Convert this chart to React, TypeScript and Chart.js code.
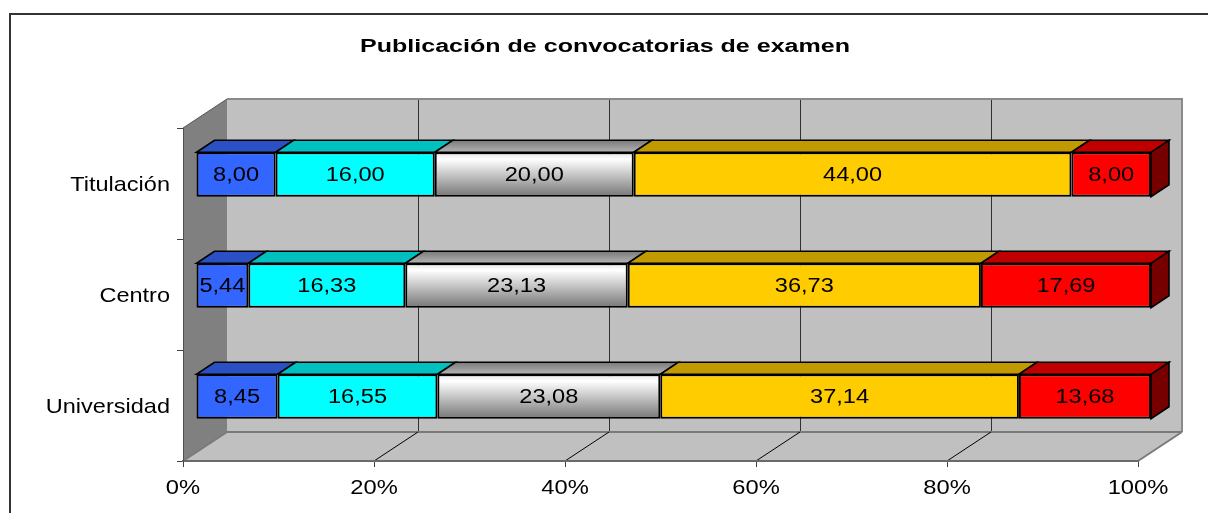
import React, { useEffect, useRef } from 'react';
import { Chart, registerables } from 'chart.js';

Chart.register(...registerables);

// ---------- data ----------
const TITLE = 'Publicación de convocatorias de examen';
const categories = ['Titulación', 'Centro', 'Universidad'];
const serie1 = [8.0, 5.44, 8.45];
const serie2 = [16.0, 16.33, 16.55];
const serie3 = [20.0, 23.13, 23.08];
const serie4 = [44.0, 36.73, 37.14];
const serie5 = [8.0, 17.69, 13.68];
const seriesNames = ['Serie1', 'Serie2', 'Serie3', 'Serie4', 'Serie5'];
const xTickValues = [0, 20, 40, 60, 80, 100];

// ---------- styles ----------
const FONT = "'Liberation Sans', Arial, Helvetica, sans-serif";
const frontColors = ['#3366ff', '#00ffff', 'GRADIENT', '#ffcc00', '#ff0000'];
const topColors = ['#2a50c4', '#00c0c0', 'GRADIENT', '#c09a00', '#c00000'];
const sideColor = '#760000';

const DEPTH_X = 44;
const DEPTH_Y = -29;
const BAR_X = 13;
const BAR_Y = -9;
const BAR_DX = 18;
const BAR_DY = -12;

const allSeries = [serie1, serie2, serie3, serie4, serie5];
const totals = categories.map((_, i) => allSeries.reduce((s, arr) => s + arr[i], 0));
const toPct = (arr: number[]) => arr.map((v, i) => (v / totals[i]) * 100);
const fmt = (v: number) => v.toFixed(2).replace('.', ',');

function grayFront(ctx: CanvasRenderingContext2D, top: number, bottom: number) {
  const g = ctx.createLinearGradient(0, top, 0, bottom);
  g.addColorStop(0, '#e4e4e4');
  g.addColorStop(0.15, '#ffffff');
  g.addColorStop(1, '#767676');
  return g;
}

function stretchedText(
  ctx: CanvasRenderingContext2D,
  text: string,
  x: number,
  y: number,
  align: CanvasTextAlign,
  sx: number
) {
  ctx.save();
  ctx.translate(x, y);
  ctx.scale(sx, 1);
  ctx.textAlign = align;
  ctx.textBaseline = 'alphabetic';
  ctx.fillText(text, 0, 0);
  ctx.restore();
}

const threeD = {
  id: 'threeD',
  beforeDraw(chart: any) {
    const { ctx, chartArea: a, scales } = chart;
    const xs = scales.x;
    ctx.save();
    // outer frame
    ctx.fillStyle = '#333333';
    ctx.fillRect(9, 13, chart.width - 9, 2);
    ctx.fillRect(9, 13, 2, chart.height - 13);

    // title
    ctx.font = `bold 18px ${FONT}`;
    ctx.fillStyle = '#000';
    const w = ctx.measureText(TITLE).width;
    const target = 490;
    stretchedText(ctx, TITLE, 605 - target / 2, 52, 'left', target / w);

    // back wall
    ctx.fillStyle = '#c0c0c0';
    ctx.fillRect(a.left + DEPTH_X, a.top + DEPTH_Y, a.right - a.left, a.bottom - a.top);
    ctx.strokeStyle = '#303030';
    ctx.lineWidth = 1;
    xTickValues.slice(1, -1).forEach((t) => {
      const x = Math.round(xs.getPixelForValue(t) + DEPTH_X) + 0.5;
      ctx.beginPath();
      ctx.moveTo(x, a.top + DEPTH_Y);
      ctx.lineTo(x, a.bottom + DEPTH_Y);
      ctx.stroke();
    });
    ctx.strokeStyle = '#8a8a8a';
    ctx.lineWidth = 2;
    ctx.beginPath();
    ctx.moveTo(a.left + DEPTH_X, a.top + DEPTH_Y);
    ctx.lineTo(a.right + DEPTH_X, a.top + DEPTH_Y);
    ctx.lineTo(a.right + DEPTH_X, a.bottom + DEPTH_Y);
    ctx.stroke();

    // side wall
    ctx.fillStyle = '#808080';
    ctx.beginPath();
    ctx.moveTo(a.left, a.top);
    ctx.lineTo(a.left + DEPTH_X, a.top + DEPTH_Y);
    ctx.lineTo(a.left + DEPTH_X, a.bottom + DEPTH_Y);
    ctx.lineTo(a.left, a.bottom);
    ctx.closePath();
    ctx.fill();
    ctx.strokeStyle = '#555555';
    ctx.lineWidth = 1;
    ctx.beginPath();
    ctx.moveTo(a.left, a.top);
    ctx.lineTo(a.left + DEPTH_X, a.top + DEPTH_Y);
    ctx.stroke();

    // floor
    ctx.fillStyle = '#c0c0c0';
    ctx.beginPath();
    ctx.moveTo(a.left, a.bottom);
    ctx.lineTo(a.right, a.bottom);
    ctx.lineTo(a.right + DEPTH_X, a.bottom + DEPTH_Y);
    ctx.lineTo(a.left + DEPTH_X, a.bottom + DEPTH_Y);
    ctx.closePath();
    ctx.fill();
    ctx.strokeStyle = '#7a7a7a';
    ctx.lineWidth = 2;
    ctx.beginPath();
    ctx.moveTo(a.left + DEPTH_X, a.bottom + DEPTH_Y);
    ctx.lineTo(a.right + DEPTH_X, a.bottom + DEPTH_Y);
    ctx.stroke();
    ctx.beginPath();
    ctx.moveTo(a.right, a.bottom);
    ctx.lineTo(a.right + DEPTH_X, a.bottom + DEPTH_Y);
    ctx.stroke();
    ctx.beginPath();
    ctx.moveTo(a.left, a.bottom);
    ctx.lineTo(a.left + DEPTH_X, a.bottom + DEPTH_Y);
    ctx.stroke();
    ctx.strokeStyle = '#000000';
    ctx.lineWidth = 1;
    xTickValues.slice(1, -1).forEach((t) => {
      const x = xs.getPixelForValue(t);
      ctx.beginPath();
      ctx.moveTo(x, a.bottom);
      ctx.lineTo(x + DEPTH_X, a.bottom + DEPTH_Y);
      ctx.stroke();
    });
    ctx.restore();
  },
  beforeDatasetsDraw(chart: any) {
    chart.ctx.save();
    chart.ctx.translate(BAR_X, BAR_Y);
  },
  afterDatasetsDraw(chart: any) {
    const ctx = chart.ctx as CanvasRenderingContext2D;
    ctx.restore();
    ctx.save();
    ctx.lineJoin = 'miter';
    const n = chart.data.datasets.length;
    const boxes: any[] = [];
    chart.data.datasets.forEach((ds: any, di: number) => {
      const meta = chart.getDatasetMeta(di);
      meta.data.forEach((el: any, i: number) => {
        const p = el.getProps(['x', 'y', 'base', 'height'], true);
        const left = Math.min(p.base, p.x) + BAR_X;
        const right = Math.max(p.base, p.x) + BAR_X;
        const top = p.y - p.height / 2 + BAR_Y;
        const bottom = p.y + p.height / 2 + BAR_Y;
        boxes.push({ di, i, left, right, top, bottom, raw: ds.rawValues[i] });
        // top face
        ctx.beginPath();
        ctx.moveTo(left, top);
        ctx.lineTo(right, top);
        ctx.lineTo(right + BAR_DX, top + BAR_DY);
        ctx.lineTo(left + BAR_DX, top + BAR_DY);
        ctx.closePath();
        if (topColors[di] === 'GRADIENT') {
          const g = ctx.createLinearGradient(0, top + BAR_DY, 0, top);
          g.addColorStop(0, '#7a7a7a');
          g.addColorStop(1, '#b4b4b4');
          ctx.fillStyle = g;
        } else {
          ctx.fillStyle = topColors[di];
        }
        ctx.fill();
        ctx.strokeStyle = '#000';
        ctx.lineWidth = 1.6;
        ctx.stroke();
        // side face on last segment
        if (di === n - 1) {
          ctx.beginPath();
          ctx.moveTo(right, top);
          ctx.lineTo(right + BAR_DX, top + BAR_DY);
          ctx.lineTo(right + BAR_DX, bottom + BAR_DY);
          ctx.lineTo(right, bottom);
          ctx.closePath();
          ctx.fillStyle = sideColor;
          ctx.fill();
          ctx.stroke();
        }
      });
    });
    // data labels
    ctx.font = `20px ${FONT}`;
    ctx.fillStyle = '#000';
    boxes.forEach((b) => {
      stretchedText(ctx, fmt(b.raw), (b.left + b.right) / 2, (b.top + b.bottom) / 2 + 6.5, 'center', 1.18);
    });

    // axis labels (from the chart's scales)
    const xs = chart.scales.x;
    const ys = chart.scales.y;
    const a = chart.chartArea;
    ctx.font = `21px ${FONT}`;
    xs.ticks.forEach((t: any) => {
      stretchedText(ctx, `${t.value}%`, xs.getPixelForValue(t.value), a.bottom + 33, 'center', 1.13);
    });
    ys.ticks.forEach((t: any, i: number) => {
      const label = chart.data.labels[t.value] ?? ys.getLabelForValue(t.value);
      stretchedText(ctx, String(label), a.left - 13, ys.getPixelForTick(i) + 7.5, 'right', 1.12);
    });
    ctx.restore();
  },
};

export default function App() {
  const ref = useRef<HTMLCanvasElement | null>(null);
  useEffect(() => {
    if (!ref.current) return;
    const datasets = allSeries.map((arr, di) => ({
      label: seriesNames[di],
      data: toPct(arr),
      rawValues: arr,
      backgroundColor:
        frontColors[di] === 'GRADIENT'
          ? (c: any) => {
              const ys = c.chart.scales && c.chart.scales.y;
              if (!ys || typeof c.dataIndex !== 'number') return '#d0d0d0';
              const yc = ys.getPixelForValue(c.dataIndex);
              if (!Number.isFinite(yc)) return '#d0d0d0';
              return grayFront(c.chart.ctx, yc - 22, yc + 22);
            }
          : frontColors[di],
      borderColor: '#000000',
      borderWidth: 2,
      borderSkipped: false,
      barPercentage: 0.4,
      categoryPercentage: 1,
    }));
    const chart = new Chart(ref.current, {
      type: 'bar',
      data: { labels: categories, datasets: datasets as any },
      options: {
        indexAxis: 'y',
        animation: false,
        responsive: false,
        devicePixelRatio: 1,
        layout: { padding: { left: 0, top: 128, right: 70, bottom: 0 } },
        plugins: {
          legend: { display: false },
          tooltip: { enabled: false },
          title: { display: false },
        },
        scales: {
          x: {
            stacked: true,
            min: 0,
            max: 100,
            afterBuildTicks: (s: any) => {
              s.ticks = xTickValues.map((v) => ({ value: v }));
            },
            afterFit: (s: any) => {
              s.height = 52;
            },
            ticks: { display: false },
            grid: { drawOnChartArea: false, drawTicks: true, tickLength: 6, color: '#404040' },
            border: { display: true, color: '#6a6a6a', width: 2 },
          },
          y: {
            stacked: true,
            afterFit: (s: any) => {
              s.width = 183;
            },
            ticks: { display: false },
            grid: { drawOnChartArea: false, drawTicks: true, tickLength: 6, color: '#404040', offset: true },
            border: { display: true, color: '#505050', width: 1 },
          },
        },
      } as any,
      plugins: [threeD],
    });
    return () => chart.destroy();
  }, []);
  return (
    <div style={{ position: 'fixed', left: 0, top: 0, width: 1208, height: 513, background: '#fff' }}>
      <canvas ref={ref} width={1208} height={513} style={{ display: 'block' }} />
    </div>
  );
}
